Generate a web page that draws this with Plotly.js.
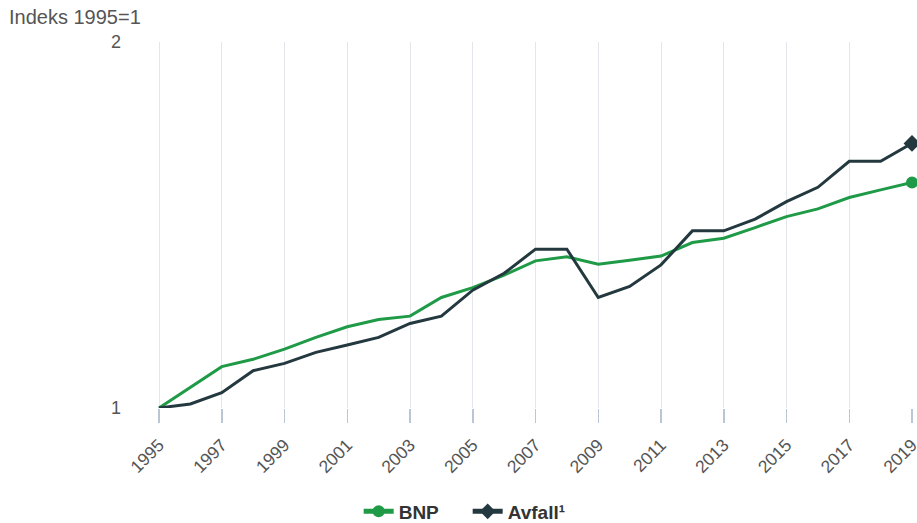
<!DOCTYPE html>
<html><head><meta charset="utf-8">
<script src="https://cdn.plot.ly/plotly-3.0.1.min.js"></script>
<style>body{margin:0;background:#fff}#chart{width:917px;height:523px}</style>
</head><body><div id="chart"></div>
<script>
const years = [1995,1996,1997,1998,1999,2000,2001,2002,2003,2004,2005,2006,2007,2008,2009,2010,2011,2012,2013,2014,2015,2016,2017,2018,2019];
const bnp = [1.000,1.057,1.113,1.133,1.161,1.193,1.222,1.242,1.251,1.302,1.329,1.363,1.402,1.413,1.393,1.404,1.415,1.452,1.464,1.493,1.523,1.544,1.575,1.596,1.616];
const avfall = [1.000,1.011,1.042,1.102,1.122,1.152,1.172,1.193,1.231,1.251,1.322,1.368,1.434,1.434,1.302,1.332,1.391,1.484,1.484,1.516,1.564,1.603,1.674,1.674,1.723];
const tickYears = [1995,1997,1999,2001,2003,2005,2007,2009,2011,2013,2015,2017,2019];
const yTicks = [1,2];
const names = ['BNP','Avfall¹'];
const colors = ['#1f9a47','#24393f'];

function endSizes(n, s){ return Array.from({length:n},(_,i)=> i===n-1 ? s : 0); }

const traces = [
  {x: years, y: bnp, name: names[0], mode:'lines+markers', line:{color:colors[0], width:3},
   marker:{symbol:'circle', size:endSizes(years.length,12), color:colors[0], opacity:1, line:{width:0}}, cliponaxis:false},
  {x: years, y: avfall, name: names[1], mode:'lines+markers', line:{color:colors[1], width:3},
   marker:{symbol:'diamond', size:endSizes(years.length,13), color:colors[1], opacity:1, line:{width:0}}, cliponaxis:false}
];

const layout = {
  width:917, height:523,
  margin:{l:144, r:5, t:42, b:115},
  paper_bgcolor:'#fff', plot_bgcolor:'#fff',
  font:{family:'Arial, Liberation Sans, sans-serif', color:'#555'},
  showlegend:true,
  legend:{orientation:'h', x:0.51, xanchor:'center', xref:'container', yref:'container', y:0.022, yanchor:'middle',
    itemsizing:'constant', itemwidth:30, entrywidth:64,
    font:{size:19, color:'#333', family:'Arial, Liberation Sans, sans-serif', weight:'bold'}},
  xaxis:{range:[1994.522, 2019], tickmode:'array', tickvals:tickYears, ticktext:tickYears.map(String),
    tickangle:-45, tickfont:{size:17.5, color:'#555'}, showgrid:true, gridcolor:'#e3e6ea', gridwidth:1,
    ticks:'outside', ticklen:14, tickwidth:1.5, tickcolor:'#b8c6d6', ticklabelstandoff:5,
    showline:false, zeroline:false, fixedrange:true,
    automargin:false, ticklabeloverflow:'allow'},
  yaxis:{range:[1,2], tickmode:'array', tickvals:yTicks, ticktext:yTicks.map(String),
    tickfont:{size:18, color:'#555'}, showgrid:true, gridcolor:'#d5dde8', gridwidth:1.5,
    ticks:'', ticklabelstandoff:22, zeroline:false, showline:false, fixedrange:true, automargin:false},
  annotations:[{text:'Indeks 1995=1', xref:'paper', yref:'paper', x:-137/768, y:1, yshift:25,
    xanchor:'left', yanchor:'middle', showarrow:false, font:{size:20, color:'#555'}}]
};
Plotly.newPlot('chart', traces, layout, {displayModeBar:false, staticPlot:true});
</script></body></html>
